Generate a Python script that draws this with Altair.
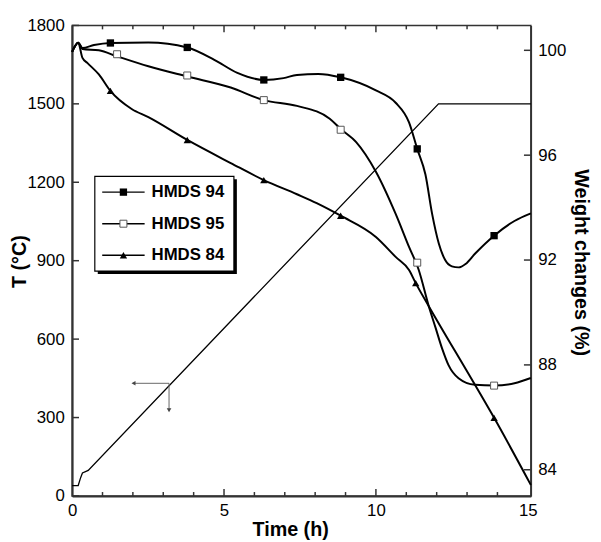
import altair as alt
import pandas as pd

# ---------------- data ----------------
# Temperature programme (left axis, °C)
temp_t = [0.0, 0.2, 0.28, 0.34, 0.53, 12.06, 15.1]
temp_T = [40, 40, 70, 88, 98, 1500, 1500]

# Weight changes (right axis, %)
t94 = [0, 0.2, 0.34, 0.72, 1.26, 2.51, 3.79, 4.68, 5.44, 6.31, 6.96, 7.40, 8.10, 8.84,
       10.0, 10.65, 11.09, 11.36, 11.63, 11.85, 12.07, 12.28, 12.5, 12.72, 12.95, 13.26, 13.89, 14.56, 15.1]
w94 = [99.94, 100.29, 100.09, 100.2, 100.28, 100.30, 100.11, 99.64, 99.14, 98.87, 98.94, 99.06, 99.10, 98.97,
       98.47, 98.0, 97.25, 96.24, 95.26, 93.76, 92.63, 92.0, 91.76, 91.72, 91.85, 92.24, 92.93, 93.49, 93.78]

t95 = [0, 0.2, 0.34, 0.88, 1.48, 2.51, 3.79, 5.22, 6.31, 7.40, 8.48, 8.84, 9.35, 10.0, 10.65,
       11.09, 11.41, 11.74, 11.96, 12.18, 12.39, 12.72, 13.26, 13.89, 14.56, 15.1]
w95 = [99.94, 100.29, 100.05, 100.0, 99.77, 99.39, 99.0, 98.58, 98.10, 97.88, 97.39, 97.0, 96.5, 95.37, 93.76,
       92.5, 91.62, 90.24, 89.43, 88.62, 87.99, 87.49, 87.24, 87.21, 87.30, 87.5]

t84 = [0, 0.2, 0.34, 0.5, 0.88, 1.26, 1.96, 2.51, 3.79, 5.22, 6.31, 7.40, 8.05, 8.84,
       10.0, 10.65, 11.09, 11.31, 11.74, 13.26, 13.89, 15.1]
w84 = [99.94, 100.29, 99.71, 99.52, 99.08, 98.45, 97.76, 97.45, 96.58, 95.70, 95.05, 94.51, 94.17, 93.69,
       92.88, 92.12, 91.62, 91.12, 90.24, 87.24, 85.98, 83.42]

# Marker positions
mt94 = [1.26, 3.79, 6.31, 8.84, 11.36, 13.89]
mw94 = [100.28, 100.11, 98.87, 98.97, 96.24, 92.93]
mt95 = [1.48, 3.79, 6.31, 8.84, 11.36, 13.89]
mw95 = [99.85, 99.04, 98.10, 96.97, 91.90, 87.21]
mt84 = [1.26, 3.79, 6.31, 8.84, 11.31, 13.89]
mw84 = [98.45, 96.58, 95.05, 93.69, 91.12, 85.98]

series_names = ["HMDS 94", "HMDS 95", "HMDS 84"]

# Axis tick values
x_labels = [0, 5, 10, 15]
x_major = [5, 10]
x_minor = [1, 2, 3, 4, 6, 7, 8, 9, 11, 12, 13, 14]
t_ticks = [0, 300, 600, 900, 1200, 1500, 1800]
w_ticks = [84, 88, 92, 96, 100]

# Arrow annotation (points toward the left axis)
arrow_t = [1.96, 3.19]
arrow_T = [431, 322]

# ---------------- tables ----------------
W, H = 465, 477
temp_df = pd.DataFrame({"t": temp_t, "T": temp_T})
lines_df = pd.concat([
    pd.DataFrame({"t": t94, "w": w94, "series": "HMDS 94"}),
    pd.DataFrame({"t": t95, "w": w95, "series": "HMDS 95"}),
    pd.DataFrame({"t": t84, "w": w84, "series": "HMDS 84"}),
])
m94 = pd.DataFrame({"t": mt94, "w": mw94})
m95 = pd.DataFrame({"t": mt95, "w": mw95})
m84 = pd.DataFrame({"t": mt84, "w": mw84})
legend_df = pd.DataFrame({"series": series_names, "row": [0, 1, 2]})

xscale = alt.Scale(domain=[0, 15.1], nice=False, zero=False)
yT = alt.Scale(domain=[0, 1800], nice=False)
yW = alt.Scale(domain=[83, 100.95], nice=False, zero=False)

FONT = "Liberation Sans"

x_axis = alt.Axis(values=x_labels, ticks=False, grid=False, labelFlush=False, labelPadding=7,
                  title="Time (h)", titleX=221, titleY=40, titleAlign="center",
                  titleBaseline="alphabetic")
left_axis = alt.Axis(values=t_ticks, ticks=False, grid=False, labelPadding=8, format="d",
                     title="T (°C)", titleX=-47, titleY=239, titleAngle=270,
                     titleAlign="center", titleBaseline="alphabetic")
right_axis = alt.Axis(orient="right", values=w_ticks, ticks=False, grid=False, labelPadding=7,
                      domainWidth=1.5, title="Weight changes (%)", titleX=44, titleY=240,
                      titleAngle=90, titleAlign="center", titleBaseline="alphabetic")


def X(field="t:Q"):
    return alt.X(field, scale=xscale, axis=x_axis)


def TY(field="T:Q"):
    return alt.Y(field, scale=yT, axis=left_axis)


def WY(field="w:Q"):
    return alt.Y(field, scale=yW, axis=right_axis)


# ---------------- left (temperature) group ----------------
temp_line = alt.Chart(temp_df).mark_line(color="black", strokeWidth=1.3).encode(x=X(), y=TY())

arrow_df = pd.DataFrame({"t": [arrow_t[0] + 0.08], "t1": [arrow_t[1]], "T": [arrow_T[0]]})
arrow_h = alt.Chart(arrow_df).mark_rule(color="#666", strokeWidth=1).encode(x=X(), x2="t1:Q", y=TY())
arrow_v_df = pd.DataFrame({"t": [arrow_t[1]], "T": [arrow_T[0]], "T1": [arrow_T[1] + 8]})
arrow_v = alt.Chart(arrow_v_df).mark_rule(color="#666", strokeWidth=1).encode(x=X(), y=TY(), y2="T1:Q")
head_l = alt.Chart(pd.DataFrame({"t": [arrow_t[0] + 0.06], "T": [arrow_T[0]]})).mark_point(
    shape="triangle-left", filled=True, color="#444", size=22, opacity=1).encode(x=X(), y=TY())
head_d = alt.Chart(pd.DataFrame({"t": [arrow_t[1]], "T": [arrow_T[1] + 6]})).mark_point(
    shape="triangle-down", filled=True, color="#444", size=22, opacity=1).encode(x=X(), y=TY())

tick_color = "#333"
left_ticks = alt.Chart(pd.DataFrame({"T": t_ticks})).mark_rule(color=tick_color, strokeWidth=1.5).encode(
    y=TY(), x=alt.value(0), x2=alt.value(7))
bot_minor = alt.Chart(pd.DataFrame({"t": x_minor})).mark_rule(color=tick_color, strokeWidth=1.5).encode(
    x=X(), y=alt.value(H), y2=alt.value(H - 4))
bot_major = alt.Chart(pd.DataFrame({"t": x_major})).mark_rule(color=tick_color, strokeWidth=1.5).encode(
    x=X(), y=alt.value(H), y2=alt.value(H - 7))
top_minor = alt.Chart(pd.DataFrame({"t": x_minor})).mark_rule(color=tick_color, strokeWidth=1.5).encode(
    x=X(), y=alt.value(0), y2=alt.value(4))
top_major = alt.Chart(pd.DataFrame({"t": x_major})).mark_rule(color=tick_color, strokeWidth=1.5).encode(
    x=X(), y=alt.value(0), y2=alt.value(7))

left_group = alt.layer(temp_line, arrow_h, arrow_v, head_l, head_d,
                       left_ticks, bot_minor, bot_major, top_minor, top_major)

# ---------------- right (weight) group ----------------
w_lines = alt.Chart(lines_df).mark_line(color="black", strokeWidth=2, interpolate="monotone").encode(
    x=X(), y=WY(), detail="series:N")
p94 = alt.Chart(m94).mark_point(shape="square", filled=True, color="black", size=55, opacity=1).encode(
    x=X(), y=WY())
p95 = alt.Chart(m95).mark_point(shape="square", filled=True, fill="white", stroke="#555",
                                strokeWidth=1, size=50, opacity=1).encode(x=X(), y=WY())
p84 = alt.Chart(m84).mark_point(shape="triangle-up", filled=True, color="black", size=55, opacity=1).encode(
    x=X(), y=WY())
right_ticks = alt.Chart(pd.DataFrame({"w": w_ticks})).mark_rule(color=tick_color, strokeWidth=1.5).encode(
    y=WY(), x=alt.value(W - 7), x2=alt.value(W))

right_group = alt.layer(w_lines, p94, p95, p84, right_ticks)

# ---------------- legend group (drawn as a framed box) ----------------
row_y = alt.Y("row:Q", scale=alt.Scale(domain=[0, 2], range=[169, 233]), axis=None)
leg_base = alt.Chart(legend_df)
shadow = alt.Chart(pd.DataFrame({"a": [0]})).mark_rect(color="black").encode(
    x=alt.value(26), x2=alt.value(167), y=alt.value(156), y2=alt.value(252))
box = alt.Chart(pd.DataFrame({"a": [0]})).mark_rect(fill="white", stroke="black", strokeWidth=1.2).encode(
    x=alt.value(23), x2=alt.value(164), y=alt.value(153), y2=alt.value(249))
leg_lines = leg_base.mark_rule(color="black", strokeWidth=1.5).encode(
    y=row_y, x=alt.value(30.5), x2=alt.value(73.5))
leg_m94 = leg_base.transform_filter("datum.row == 0").mark_point(
    shape="square", filled=True, color="black", size=55, opacity=1).encode(y=row_y, x=alt.value(52))
leg_m95 = leg_base.transform_filter("datum.row == 1").mark_point(
    shape="square", filled=True, fill="white", stroke="#555", strokeWidth=1, size=50, opacity=1).encode(
    y=row_y, x=alt.value(52))
leg_m84 = leg_base.transform_filter("datum.row == 2").mark_point(
    shape="triangle-up", filled=True, color="black", size=55, opacity=1).encode(y=row_y, x=alt.value(52))
leg_text = leg_base.mark_text(align="left", baseline="middle", font=FONT, fontSize=17,
                              fontWeight="bold", color="black").encode(
    y=row_y, x=alt.value(80.5), text="series:N")
legend_group = alt.layer(shadow, box, leg_lines, leg_m94, leg_m95, leg_m84, leg_text)

chart = alt.layer(left_group, right_group, legend_group).resolve_scale(y="independent").properties(
    width=W, height=H, autosize="none",
    padding={"left": 65, "top": 14, "right": 63, "bottom": 43},
).configure_view(stroke="#333", strokeWidth=1.5).configure_axis(
    labelFont=FONT, labelFontSize=17, labelColor="black",
    titleFont=FONT, titleFontSize=20, titleFontWeight="bold", titleColor="black",
    domainColor="#333", domainWidth=2,
)

chart.save("out.html", embed_options={"renderer": "svg", "actions": False})
